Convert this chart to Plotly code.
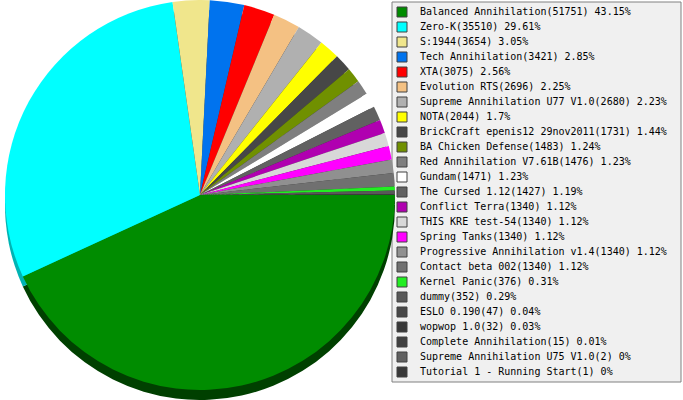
import plotly.graph_objects as go

labels = ["Balanced Annihilation", "Zero-K", "S:1944", "Tech Annihilation", "XTA",
          "Evolution RTS", "Supreme Annihilation U77 V1.0", "NOTA",
          "BrickCraft epenis12 29nov2011", "BA Chicken Defense", "Red Annihilation V7.61B",
          "Gundam", "The Cursed 1.12", "Conflict Terra", "THIS KRE test-54", "Spring Tanks",
          "Progressive Annihilation v1.4", "Contact beta 002", "Kernel Panic", "dummy",
          "ESLO 0.190", "wopwop 1.0", "Complete Annihilation", "Supreme Annihilation U75 V1.0",
          "Tutorial 1 - Running Start"]
values = [51751, 35510, 3654, 3421, 3075, 2696, 2680, 2044, 1731, 1483, 1476, 1471, 1427,
          1340, 1340, 1340, 1340, 1340, 376, 352, 47, 32, 15, 2, 1]
percents = ["43.15%", "29.61%", "3.05%", "2.85%", "2.56%", "2.25%", "2.23%", "1.7%", "1.44%",
            "1.24%", "1.23%", "1.23%", "1.19%", "1.12%", "1.12%", "1.12%", "1.12%", "1.12%",
            "0.31%", "0.29%", "0.04%", "0.03%", "0.01%", "0%", "0%"]
colors = ["#008C00", "#00FFFF", "#F0E68C", "#0073EE", "#FF0000", "#F4C183", "#B0B0B0",
          "#FFFF00", "#474747", "#709000", "#7F7F7F", "#FFFFFF", "#616161", "#B000B0",
          "#D8D8D8", "#FF00FF", "#909090", "#707070", "#22EE22", "#585858", "#484848",
          "#383838", "#404040", "#606060", "#383838"]
shadow_colors = ["#004000", "#00B4B4"] + ["#303030"] * (len(values) - 2)

legend_text = [f"{l}({v}) {p}" for l, v, p in zip(labels, values, percents)]

W, H = 683, 400
cx, cy, r = 200, 195, 195
off = 10

fig = go.Figure()
# shadow / thickness
fig.add_trace(go.Pie(
    labels=[l + " " for l in labels], values=values, sort=False, direction="clockwise",
    rotation=90, textinfo="none", hoverinfo="skip", showlegend=False,
    marker=dict(colors=shadow_colors, line=dict(width=0)),
    domain=dict(x=[(cx - r) / W, (cx + r) / W],
                y=[(H - cy - off - r) / H, (H - cy - off + r) / H]),
))
fig.add_trace(go.Pie(
    labels=labels, values=values, sort=False, direction="clockwise",
    rotation=90, textinfo="none", showlegend=False,
    marker=dict(colors=colors, line=dict(width=0)),
    domain=dict(x=[(cx - r) / W, (cx + r) / W],
                y=[max(0, (H - cy - r) / H), min(1, (H - cy + r) / H)]),
))

# custom legend drawn in its own axes
idx = list(range(len(labels)))
fig.add_trace(go.Scatter(
    x=[10] * len(idx), y=idx, mode="markers", xaxis="x2", yaxis="y2",
    marker=dict(symbol="square", size=10, color=colors, line=dict(color="#404040", width=1)),
    hoverinfo="skip", showlegend=False,
))
fig.add_trace(go.Scatter(
    x=[28] * len(idx), y=idx, mode="text", xaxis="x2", yaxis="y2",
    text=legend_text, textposition="middle right",
    textfont=dict(family="DejaVu Sans Mono", size=10, color="#000000"),
    hoverinfo="skip", showlegend=False,
))

lx0, lx1, ly0, ly1 = 392, 681, 2, 382
fig.add_shape(type="rect", xref="paper", yref="paper",
              x0=lx0 / W, x1=lx1 / W, y0=1 - ly1 / H, y1=1 - ly0 / H,
              fillcolor="#F0F0F0", line=dict(color="#808080", width=1), layer="below")

n = len(labels)
fig.update_layout(
    width=W, height=H, margin=dict(l=0, r=0, t=0, b=0),
    paper_bgcolor="white", plot_bgcolor="rgba(0,0,0,0)",
    xaxis2=dict(domain=[lx0 / W, lx1 / W], range=[0, lx1 - lx0], visible=False,
                fixedrange=True, anchor="y2"),
    yaxis2=dict(domain=[1 - ly1 / H, 1 - ly0 / H], range=[n - 1 + 10 / 15, -10 / 15],
                visible=False, fixedrange=True, anchor="x2"),
)

fig.write_html("out.html", config={"displayModeBar": False},
               post_script="document.body.style.margin='0';")
